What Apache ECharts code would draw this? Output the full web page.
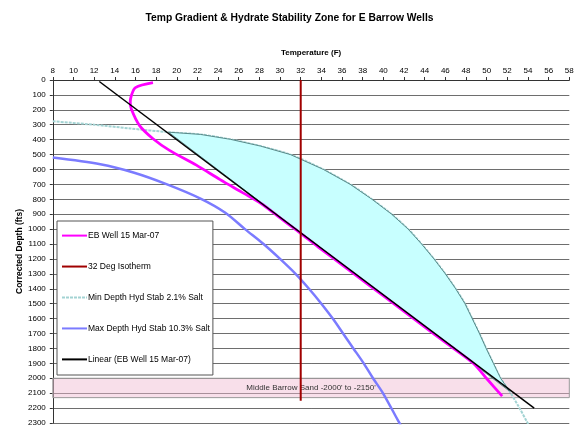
<!DOCTYPE html>
<html>
<head>
<meta charset="utf-8">
<script src="https://cdn.jsdelivr.net/npm/echarts@6/dist/echarts.min.js"></script>
<style>html,body{margin:0;padding:0;background:#fff;}#c{width:579px;height:427px;}</style>
</head>
<body>
<div id="c"></div>
<script>
// ---- data ----
const titleText = 'Temp Gradient & Hydrate Stability Zone for E Barrow Wells';
const xName = 'Temperature (F)';
const yName = 'Corrected Depth (fts)';
const seriesNames = ['EB Well 15 Mar-07', '32 Deg Isotherm', 'Min Depth Hyd Stab 2.1% Salt', 'Max Depth Hyd Stab 10.3% Salt', 'Linear (EB Well 15 Mar-07)'];

const wellTemp  = [17.7, 16.0, 15.6, 15.5, 15.6, 16.4, 17.7, 19.3, 21.9, 24.2, 26.5, 28.2, 30.0, 31.8, 33.7, 36.2, 38.7, 41.2, 43.7, 46.2, 48.7, 50.1, 51.5];
const wellDepth = [18,   51,   106,  150,  195,  306,  394,  472,  571,  668,  760,  830,  925,  1018, 1120, 1250, 1380, 1510, 1640, 1770, 1899, 2010, 2120];

const isoTemp  = [32, 32];
const isoDepth = [0, 2150];

const minTemp  = [8,   12,  15.5, 19.2, 22.3, 25.2, 28.1, 31.0, 34.2, 36.8, 38.9, 40.8, 42.4, 43.7, 44.9, 46.0, 47.0, 47.9, 48.6, 49.3, 49.95, 50.65, 51.35, 52.2, 53.1, 53.9, 54.2];
const minDepth = [277, 300, 325,  350,  365,  398,  443,  500,  600,  700,  800,  900,  1000, 1100, 1200, 1300, 1400, 1500, 1600, 1700, 1800,  1900,  2000,  2086, 2190, 2292, 2330];

const maxTemp  = [8,   12.6, 15.8, 19.0, 22.3, 24.7, 26.6, 28.4, 30.0, 31.5, 32.8, 34.0, 35.1, 36.1, 37.1, 38.1, 39.0, 40.0, 41.4, 41.8];
const maxDepth = [520, 565,  620,  698,  795,  890,  1000, 1100, 1200, 1300, 1400, 1500, 1600, 1700, 1800, 1900, 2000, 2104, 2281, 2330];

const linTemp  = [12.5, 54.6];
const linDepth = [10,   2200];

const sandBand = [2000, 2130];
const sandLabel = "Middle Barrow Sand -2000' to -2150'";

// hydrate stability zone: between min-depth curve and linear trend
const zoneTempMin = 19.2, zoneTempMax = 52.2;

const zip = (a, b) => a.map((v, i) => [v, b[i]]);
const FONT = "'Liberation Sans', Arial, sans-serif";

const zonePts = zip(minTemp, minDepth).filter(p => p[0] >= zoneTempMin && p[0] <= zoneTempMax);

const chart = echarts.init(document.getElementById('c'), null, {renderer: 'canvas'});
chart.setOption({
  animation: false,
  backgroundColor: '#fff',
  textStyle: {fontFamily: FONT},
  title: {
    text: titleText, left: 'center', top: 8,
    textStyle: {fontFamily: FONT, fontSize: 10.3, fontWeight: 'bold', color: '#000'}
  },
  grid: {left: 52.8, right: 9.7, top: 80, bottom: 0.85, containLabel: false},
  legend: {
    orient: 'vertical', left: 57, top: 221,
    padding: [9, 3, 10, 4], itemGap: 19.75, itemWidth: 25, itemHeight: 14,
    backgroundColor: '#fff', borderColor: '#555', borderWidth: 1, z: 4,
    itemStyle: {opacity: 0},
    data: seriesNames,
    textStyle: {fontFamily: FONT, fontSize: 8.5, color: '#000', padding: [0, 0, 0, -4]}
  },
  xAxis: {
    type: 'value', position: 'top', min: 8, max: 58, interval: 2,
    name: xName, nameLocation: 'middle', nameGap: 23, nameMoveOverlap: false,
    nameTextStyle: {fontFamily: FONT, fontSize: 8, fontWeight: 'bold', color: '#000'},
    axisLine: {show: true, onZero: false, lineStyle: {color: '#333', width: 1}},
    axisTick: {show: true, inside: false, length: 3, lineStyle: {color: '#333'}},
    axisLabel: {fontFamily: FONT, fontSize: 8, color: '#000', margin: 5},
    splitLine: {show: false}
  },
  yAxis: {
    type: 'value', inverse: true, min: 0, max: 2300, interval: 100,
    name: yName, nameLocation: 'middle', nameGap: 29, nameRotate: 90, nameMoveOverlap: false,
    nameTextStyle: {fontFamily: FONT, fontSize: 8.5, fontWeight: 'bold', color: '#000'},
    axisLine: {show: true, onZero: false, lineStyle: {color: '#333', width: 1}},
    axisTick: {show: true, inside: false, length: 3, lineStyle: {color: '#333'}},
    axisLabel: {fontFamily: FONT, fontSize: 8, color: '#000', margin: 7, formatter: v => String(v)},
    splitLine: {show: true, lineStyle: {color: '#6e6e6e', width: 1}}
  },
  series: [
    {
      name: 'band', type: 'line', data: [], z: 5, silent: true,
      markArea: {
        silent: true,
        itemStyle: {color: 'rgba(240,185,208,0.45)', borderColor: '#999', borderWidth: 1},
        label: {show: true, position: 'inside', color: '#333', fontSize: 8, fontFamily: FONT},
        data: [[{name: sandLabel, xAxis: 8, yAxis: sandBand[0]}, {xAxis: 58, yAxis: sandBand[1]}]]
      }
    },
    {
      name: seriesNames[2], type: 'line', z: 6, symbol: 'none', smooth: 0.3,
      lineStyle: {color: '#a3d3d3', width: 2, type: [3, 1]},
      itemStyle: {color: '#a3d3d3'},
      data: zip(minTemp, minDepth)
    },
    {
      name: 'zone', type: 'custom', z: 7, silent: true,
      data: [0],
      renderItem: function (params, api) {
        const pts = zonePts.map(p => api.coord(p));
        return {
          type: 'polygon',
          shape: {points: pts},
          style: {fill: '#c8ffff', stroke: '#3f6e6e', lineWidth: 0.8}
        };
      }
    },
    {
      name: seriesNames[3], type: 'line', z: 8, symbol: 'none', smooth: 0.3,
      lineStyle: {color: '#7b7bff', width: 2.5},
      itemStyle: {color: '#7b7bff'},
      data: zip(maxTemp, maxDepth)
    },
    {
      name: seriesNames[0], type: 'line', z: 8, symbol: 'none', smooth: 0.3,
      lineStyle: {color: '#ff00ff', width: 2.8},
      itemStyle: {color: '#ff00ff'},
      data: zip(wellTemp, wellDepth)
    },
    {
      name: seriesNames[4], type: 'line', z: 9, symbol: 'none',
      lineStyle: {color: '#000', width: 1.5},
      itemStyle: {color: '#000'},
      data: zip(linTemp, linDepth)
    },
    {
      name: seriesNames[1], type: 'line', z: 9, symbol: 'none',
      lineStyle: {color: '#a00000', width: 2},
      itemStyle: {color: '#a00000'},
      data: zip(isoTemp, isoDepth)
    }
  ]
});
</script>
</body>
</html>
